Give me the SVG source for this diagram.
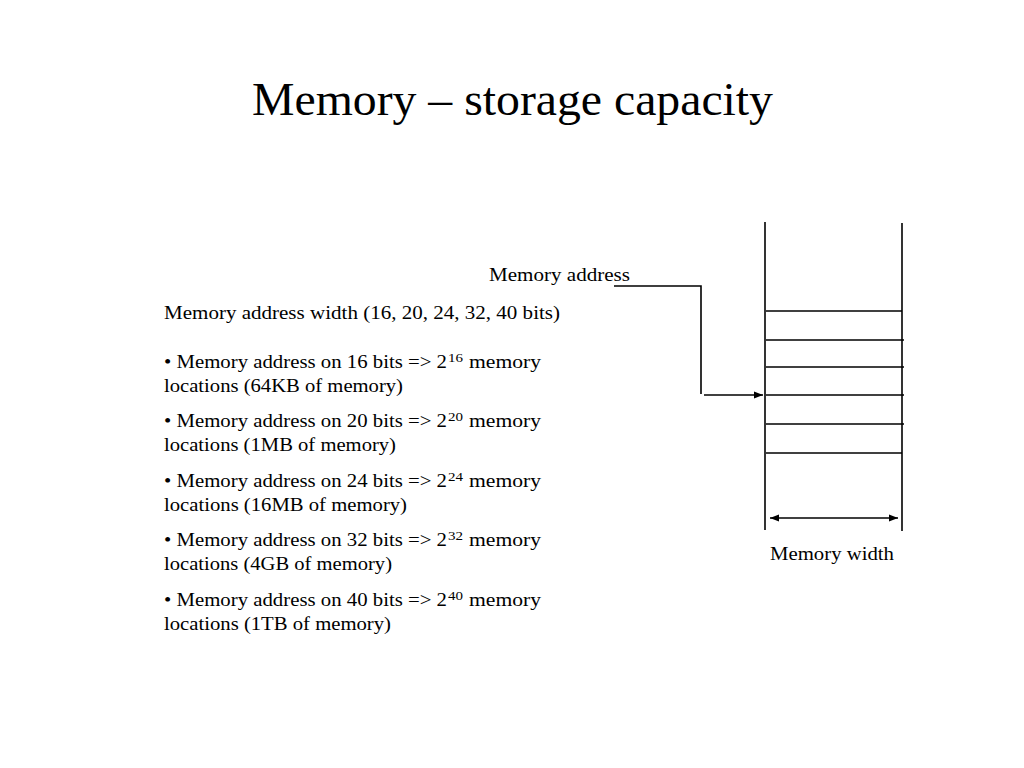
<svg xmlns="http://www.w3.org/2000/svg" width="1024" height="768" viewBox="0 0 1024 768">
<style>
text{font-family:"Liberation Serif","DejaVu Serif",serif;fill:#000}
.t{font-size:46px}
.b{font-size:19.5px}
.s{font-size:13px}
.ln{stroke:#000;stroke-width:1.6;fill:none}
</style>
<defs>
<marker id="ah" viewBox="0 0 10 10" refX="10" refY="5" markerWidth="10" markerHeight="9" markerUnits="userSpaceOnUse" orient="auto-start-reverse"><path d="M0,1 L10,5 L0,9 z" fill="#000"/></marker>
</defs>
<rect width="1024" height="768" fill="#fff"/>
<g id="title"><text class="t" x="252" y="115" textLength="521" lengthAdjust="spacingAndGlyphs">Memory – storage capacity</text></g>
<g id="bullets">
<text class="b" x="164" y="319" textLength="396" lengthAdjust="spacingAndGlyphs">Memory address width (16, 20, 24, 32, 40 bits)</text>

<text class="b" x="164" y="368" textLength="283" lengthAdjust="spacingAndGlyphs">• Memory address on 16 bits =&gt; 2</text>
<text class="s" x="448" y="362" textLength="15" lengthAdjust="spacingAndGlyphs">16</text>
<text class="b" x="469" y="368" textLength="72" lengthAdjust="spacingAndGlyphs">memory</text>
<text class="b" x="164" y="392" textLength="239" lengthAdjust="spacingAndGlyphs">locations (64KB of memory)</text>

<text class="b" x="164" y="427" textLength="283" lengthAdjust="spacingAndGlyphs">• Memory address on 20 bits =&gt; 2</text>
<text class="s" x="448" y="421" textLength="15" lengthAdjust="spacingAndGlyphs">20</text>
<text class="b" x="469" y="427" textLength="72" lengthAdjust="spacingAndGlyphs">memory</text>
<text class="b" x="164" y="451" textLength="232" lengthAdjust="spacingAndGlyphs">locations (1MB of memory)</text>

<text class="b" x="164" y="487" textLength="283" lengthAdjust="spacingAndGlyphs">• Memory address on 24 bits =&gt; 2</text>
<text class="s" x="448" y="481" textLength="15" lengthAdjust="spacingAndGlyphs">24</text>
<text class="b" x="469" y="487" textLength="72" lengthAdjust="spacingAndGlyphs">memory</text>
<text class="b" x="164" y="511" textLength="243" lengthAdjust="spacingAndGlyphs">locations (16MB of memory)</text>

<text class="b" x="164" y="546" textLength="283" lengthAdjust="spacingAndGlyphs">• Memory address on 32 bits =&gt; 2</text>
<text class="s" x="448" y="540" textLength="15" lengthAdjust="spacingAndGlyphs">32</text>
<text class="b" x="469" y="546" textLength="72" lengthAdjust="spacingAndGlyphs">memory</text>
<text class="b" x="164" y="570" textLength="228" lengthAdjust="spacingAndGlyphs">locations (4GB of memory)</text>

<text class="b" x="164" y="606" textLength="283" lengthAdjust="spacingAndGlyphs">• Memory address on 40 bits =&gt; 2</text>
<text class="s" x="448" y="600" textLength="15" lengthAdjust="spacingAndGlyphs">40</text>
<text class="b" x="469" y="606" textLength="72" lengthAdjust="spacingAndGlyphs">memory</text>
<text class="b" x="164" y="630" textLength="227" lengthAdjust="spacingAndGlyphs">locations (1TB of memory)</text>
</g>
<g id="memory">
<line class="ln" x1="765" y1="222" x2="765" y2="530"/>
<line class="ln" x1="902" y1="223" x2="902" y2="531"/>
<line class="ln" x1="766" y1="311" x2="902" y2="311"/>
<line class="ln" x1="766" y1="340" x2="904" y2="340"/>
<line class="ln" x1="766" y1="367" x2="904" y2="367"/>
<line class="ln" x1="766" y1="395" x2="904" y2="395"/>
<line class="ln" x1="766" y1="424" x2="904" y2="424"/>
<line class="ln" x1="766" y1="453" x2="902" y2="453"/>
</g>
<g id="address-label"><text class="b" x="489" y="280.5" textLength="141" lengthAdjust="spacingAndGlyphs">Memory address</text></g>
<g id="width-label"><text class="b" x="770" y="560" textLength="124" lengthAdjust="spacingAndGlyphs">Memory width</text></g>
<g id="connectors">
<polyline class="ln" points="614,286 701,286 701,394"/>
<line class="ln" x1="704" y1="395" x2="763" y2="395" marker-end="url(#ah)"/>
<line class="ln" x1="770" y1="518" x2="898" y2="518" marker-start="url(#ah)" marker-end="url(#ah)"/>
</g>
</svg>
